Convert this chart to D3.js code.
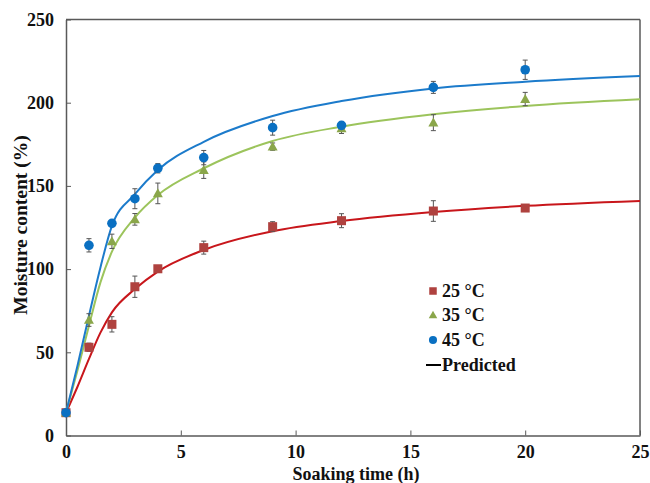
<!DOCTYPE html>
<html>
<head>
<meta charset="utf-8">
<script src="https://cdn.jsdelivr.net/npm/d3@7"></script>
<style>
  html, body { margin: 0; padding: 0; background: #fff; }
  svg { display: block; font-family: "Liberation Serif", "Times New Roman", serif; }
</style>
</head>
<body>
<svg id="chart" width="650" height="483"></svg>
<script>
// ---------- data ----------
const times = [0, 1, 2, 3, 4, 6, 9, 12, 16, 20];
const m25 = [13.7, 53, 66.8, 89.4, 100.2, 112.9, 125.5, 129.1, 134.9, 136.7];
const e25 = [0.5, 2.5, 4.6, 6.4, 1.2, 3.9, 3, 4.2, 6.2, 1.2];
const m35 = [13.7, 69.4, 116.7, 129.9, 145.5, 159.5, 173.6, 184.5, 188, 202.2];
const e35 = [0.5, 3.8, 4.3, 3.5, 6.2, 5, 2.2, 3, 4.8, 4];
const m45 = [13.7, 114.3, 127.5, 142.3, 160.6, 167, 185, 186.4, 209.2, 219.8];
const e45 = [0.5, 4, 1.5, 6, 2.8, 4.3, 4.5, 2, 3.6, 5.8];

const predTimes = [0, 0.5, 1, 1.5, 2, 3, 4, 6, 9, 12, 16, 20, 25];
const pred25 = [13.7, 29.3, 46, 61.8, 74, 88, 98.5, 111.5, 122.8, 128.9, 134.3, 138, 141];
const pred35 = [13.7, 39, 66, 92, 110.5, 131, 144.5, 160.6, 177, 185.6, 193, 198, 202];
const pred45 = [13.7, 42, 72, 101, 126, 145, 159.5, 176.5, 192, 201, 208.6, 212.6, 216];

const xTicks = [0, 5, 10, 15, 20, 25];
const yTicks = [0, 50, 100, 150, 200, 250];
const legendLabels = ["25 °C", "35 °C", "45 °C", "Predicted"];

// ---------- layout ----------
const svg = d3.select("#chart");
const x = d3.scaleLinear().domain([0, 25]).range([66, 640]);
const y = d3.scaleLinear().domain([0, 250]).range([435.5, 19.5]);

const axisColor = "#595959";
const textColor = "#111";

const series = [
  { vals: m25, errs: e25, pred: pred25, shape: "square", fill: "#AF423F", line: "#C8161B" },
  { vals: m35, errs: e35, pred: pred35, shape: "triangle", fill: "#8AA64A", line: "#9CC45C" },
  { vals: m45, errs: e45, pred: pred45, shape: "circle", fill: "#0A70C2", line: "#1C7BCB" }
];

// frame top/right
svg.append("line").attr("x1", x(0)).attr("x2", x(25)).attr("y1", y(250)).attr("y2", y(250))
  .attr("stroke", axisColor).attr("stroke-width", 1.5);
svg.append("line").attr("x1", x(25)).attr("x2", x(25)).attr("y1", y(0)).attr("y2", y(250))
  .attr("stroke", axisColor).attr("stroke-width", 1.5);

// axes
const xAxis = svg.append("g").attr("transform", `translate(0,${y(0)})`)
  .call(d3.axisBottom(x).tickValues(xTicks).tickSizeInner(-5).tickSizeOuter(0).tickPadding(10));
const yAxis = svg.append("g").attr("transform", `translate(${x(0)},0)`)
  .call(d3.axisLeft(y).tickValues(yTicks).tickSizeInner(-5).tickSizeOuter(0).tickPadding(12));
[xAxis, yAxis].forEach(g => {
  g.select(".domain").attr("stroke", axisColor).attr("stroke-width", 1.5);
  g.selectAll(".tick line").attr("stroke", axisColor).attr("stroke-width", 1);
  g.selectAll(".tick text").attr("fill", textColor).attr("font-size", 18).attr("font-weight", "bold")
    .attr("font-family", "Liberation Serif, Times New Roman, serif");
});

// axis titles
svg.append("text").attr("x", 356).attr("y", 479.5).attr("text-anchor", "middle")
  .attr("font-size", 18).attr("font-weight", "bold").attr("fill", textColor)
  .text("Soaking time (h)");
svg.append("text").attr("transform", `translate(26.5,225) rotate(-90)`)
  .attr("text-anchor", "middle")
  .attr("font-size", 19.5).attr("font-weight", "bold").attr("fill", textColor)
  .text("Moisture content (%)");

// predicted lines
const lineGen = d3.line().x((d, i) => x(predTimes[i])).y(d => y(d)).curve(d3.curveMonotoneX);
series.forEach(s => {
  svg.append("path").datum(s.pred).attr("d", lineGen)
    .attr("fill", "none").attr("stroke", s.line).attr("stroke-width", 2);
});

// markers
function drawMarker(g, shape, cx, cy, size, fill) {
  if (shape === "square") {
    g.append("rect").attr("x", cx - size / 2).attr("y", cy - size / 2)
      .attr("width", size).attr("height", size).attr("fill", fill);
  } else if (shape === "triangle") {
    const h = size * 0.95;
    g.append("path")
      .attr("d", `M${cx},${cy - h * 0.6} L${cx + size / 2 + 0.5},${cy + h * 0.45} L${cx - size / 2 - 0.5},${cy + h * 0.45} Z`)
      .attr("fill", fill);
  } else {
    g.append("circle").attr("cx", cx).attr("cy", cy).attr("r", size / 2 + 0.3).attr("fill", fill);
  }
}

series.forEach(s => {
  const g = svg.append("g");
  // error bars
  s.vals.forEach((v, i) => {
    const cx = x(times[i]);
    const e = s.errs[i];
    g.append("line").attr("x1", cx).attr("x2", cx).attr("y1", y(v - e)).attr("y2", y(v + e))
      .attr("stroke", "#555").attr("stroke-width", 1);
    [v - e, v + e].forEach(b => {
      g.append("line").attr("x1", cx - 2.5).attr("x2", cx + 2.5).attr("y1", y(b)).attr("y2", y(b))
        .attr("stroke", "#555").attr("stroke-width", 1);
    });
  });
  s.vals.forEach((v, i) => drawMarker(g, s.shape, x(times[i]), y(v), 9, s.fill));
});

// legend
const lg = svg.append("g");
const legY = [291, 315, 340, 365];
series.forEach((s, i) => {
  drawMarker(lg, s.shape, 433, legY[i], 7.5, s.fill);
});
lg.append("line").attr("x1", 426).attr("x2", 441).attr("y1", legY[3]).attr("y2", legY[3])
  .attr("stroke", "#000").attr("stroke-width", 2);
legendLabels.forEach((t, i) => {
  lg.append("text").attr("x", 442).attr("y", legY[i]).attr("dy", "0.35em")
    .attr("font-size", 18).attr("font-weight", "bold").attr("fill", textColor).text(t);
});
</script>
</body>
</html>
